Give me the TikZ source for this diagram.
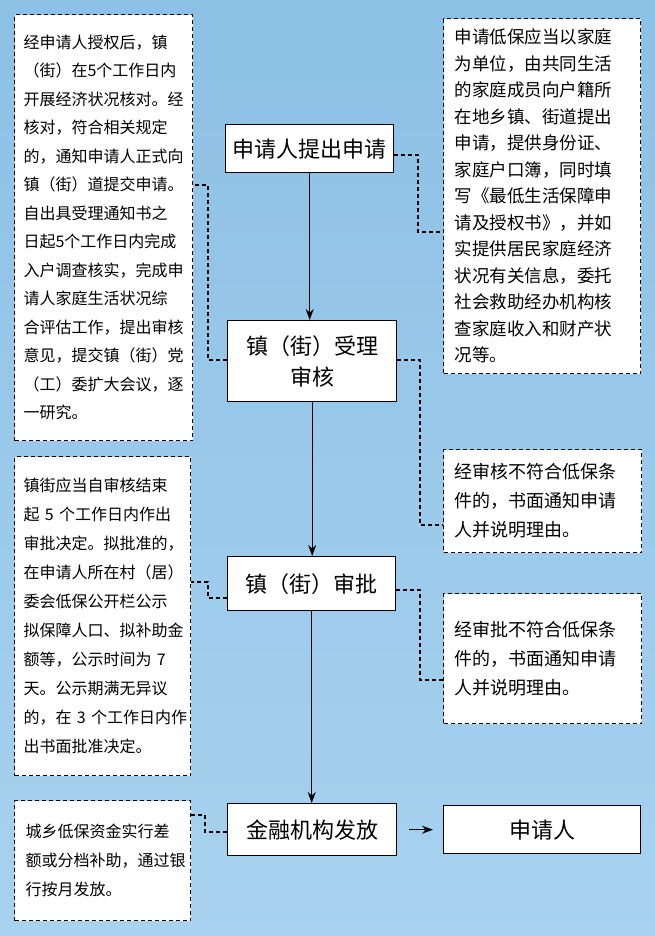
\documentclass[tikz,border=0pt]{standalone}
\usepackage{fontspec}
\setmainfont{Noto Sans CJK SC}
\usetikzlibrary{arrows.meta}
\definecolor{bgtop}{HTML}{8CC0E5}
\definecolor{bgbot}{HTML}{A8D2EF}
\begin{document}
\begin{tikzpicture}[x=1pt,y=-1pt,
  side/.style 2 args={draw=black,fill=white,dash pattern=on 4pt off 3pt,line width=1.2pt,anchor=north west,align=left,inner sep=0pt,font=\fontsize{#2}{#1}\selectfont},
  mainbox/.style={draw=black,fill=white,line width=1.4pt,anchor=north west,align=center,inner sep=0pt,font=\fontsize{22}{31}\selectfont},
  conn/.style={dash pattern=on 4pt off 3pt,line width=1.2pt},
  arr/.style={line width=1.2pt,-{Stealth[length=11pt,width=8pt]}}]
\shade[top color=bgtop,bottom color=bgbot] (0,0) rectangle (655,936);
\useasboundingbox (0,0) rectangle (655,936);
% side boxes
\node[side={28.5}{16},minimum width=178,minimum height=426,text width=178] (l1) at (14,14) {\hspace*{9pt}\parbox{165pt}{经申请人授权后，镇\\（街）在5个工作日内\\开展经济状况核对。经\\核对，符合相关规定\\的，通知申请人正式向\\镇（街）道提交申请。\\自出具受理通知书之\\日起5个工作日内完成\\入户调查核实，完成申\\请人家庭生活状况综\\合评估工作，提出审核\\意见，提交镇（街）党\\（工）委扩大会议，逐\\一研究。}};
\node[side={26.5}{17.5},minimum width=197,minimum height=355,text width=197] (r1) at (443,18) {\hspace*{11pt}\parbox{180pt}{申请低保应当以家庭\\为单位，由共同生活\\的家庭成员向户籍所\\在地乡镇、街道提出\\申请，提供身份证、\\家庭户口簿，同时填\\写《最低生活保障申\\请及授权书》，并如\\实提供居民家庭经济\\状况有关信息，委托\\社会救助经办机构核\\查家庭收入和财产状\\况等。}};
\node[side={29}{18},minimum width=198,minimum height=103,text width=198] (r2) at (443,449) {\hspace*{11pt}\parbox{180pt}{经审核不符合低保条\\件的，书面通知申请\\人并说明理由。}};
\node[side={29}{16},minimum width=176,minimum height=319,text width=176] (l2) at (14,456) {\hspace*{9pt}\parbox{165pt}{镇街应当自审核结束\\起 5 个工作日内作出\\审批决定。拟批准的，\\在申请人所在村（居）\\委会低保公开栏公示\\拟保障人口、拟补助金\\额等，公示时间为 7\\天。公示期满无异议\\的，在 3 个工作日内作\\出书面批准决定。}};
\node[side={29}{18},minimum width=198,minimum height=130,text width=198] (r3) at (443,593) {\hspace*{11pt}\parbox{180pt}{经审批不符合低保条\\件的，书面通知申请\\人并说明理由。}};
\node[side={29}{16},minimum width=176,minimum height=120,text width=176] (l3) at (14,800) {\hspace*{11pt}\parbox{162pt}{城乡低保资金实行差\\额或分档补助，通过银\\行按月发放。}};
% main boxes
\node[mainbox,minimum width=168,minimum height=48] (m1) at (225,124) {申请人提出申请};
\node[mainbox,minimum width=169,minimum height=81] (m2) at (227,320) {镇（街）受理\\审核};
\node[mainbox,minimum width=168,minimum height=54] (m3) at (227,556) {镇（街）审批};
\node[mainbox,minimum width=169,minimum height=52] (m4) at (227,803) {金融机构发放};
\node[mainbox,minimum width=197,minimum height=48] (ap) at (443,805) {申请人};
% arrows
\draw[arr] (m1.south) -- (m1.south |- m2.north);
\draw[arr] (m2.south) -- (m2.south |- m3.north);
\draw[arr] (m3.south) -- (m3.south |- m4.north);
\draw[arr] ([xshift=12pt]m4.east) coordinate (a0) -- ([xshift=-10pt]ap.west);
% dashed connectors
\draw[conn] (m1.east |- 0,155) -| (418,232) -- (r1.west |- 0,232);
\draw[conn] (m2.west |- 0,360) -| (208,185) -- (l1.east |- 0,185);
\draw[conn] (m2.east |- 0,360) -| (420,525) -- (r2.west |- 0,525);
\draw[conn] (m3.west |- 0,598) -| (208,582) -- (l2.east |- 0,582);
\draw[conn] (m3.east |- 0,590) -| (420,680) -- (r3.west |- 0,680);
\draw[conn] (m4.west |- 0,832) -| (205,815) -- (l3.east |- 0,815);
\end{tikzpicture}
\end{document}
